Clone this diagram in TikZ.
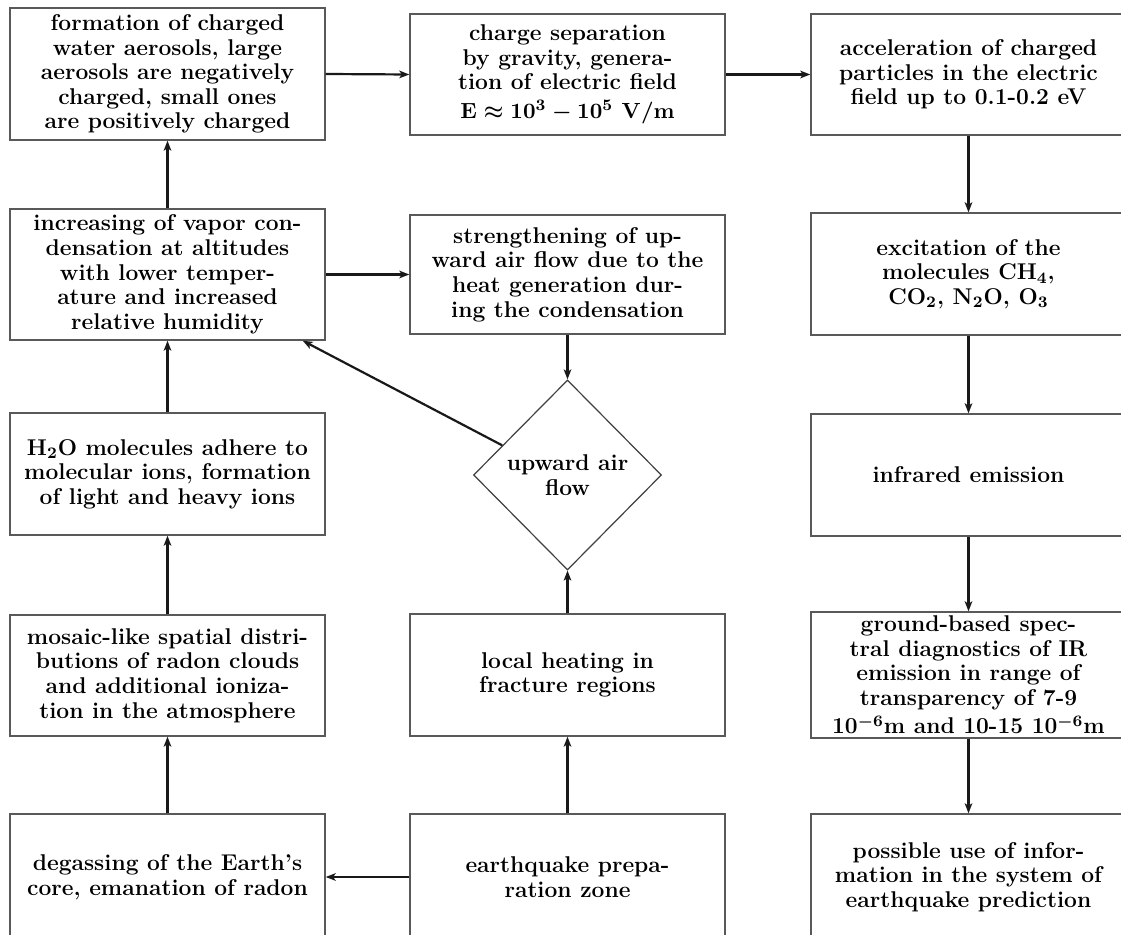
\documentclass[tikz,border=0pt]{standalone}
\usetikzlibrary{shapes.geometric,arrows.meta,calc}
\newcommand\sbs[1]{$_{\mathbf{#1}}$}
\newcommand\sps[1]{$^{\mathbf{#1}}$}
\begin{document}
\begin{tikzpicture}[x=0.5pt,y=-0.5pt,
  box/.style={draw=black!65,line width=0.7pt,fill=white,align=center,
    minimum width=157.5pt,inner sep=1pt,
    font=\fontsize{11.4}{12.3}\selectfont\bfseries\boldmath},
  dia/.style={draw=black!75,line width=0.6pt,shape=diamond,align=center,
    minimum width=94pt,minimum height=95pt,inner sep=0pt,
    font=\fontsize{11.4}{12.3}\selectfont\bfseries\boldmath},
  arr/.style={draw=black!90,line width=1.1pt,-{Stealth[length=5pt,width=3.8pt,inset=1.3pt]}}]
\useasboundingbox (0,0) rectangle (1121,935);
\clip (0,0) rectangle (1121,935);
\fill[white] (0,0) rectangle (1121,935);
% column 1
\node[box,minimum height=66pt] (A1) at (167.5,74) {formation of charged\\water aerosols, large\\aerosols are negatively\\charged, small ones\\are positively charged};
\node[box,minimum height=65.5pt] (A2) at (167.5,274.5) {increasing of vapor con-\\densation at altitudes\\with lower temper-\\ature and increased\\relative humidity};
\node[box,minimum height=61pt] (A3) at (167.5,474) {H\sbs{2}O molecules adhere to\\molecular ions, formation\\of light and heavy ions};
\node[box,minimum height=60.5pt] (A4) at (167.5,675.5) {mosaic-like spatial distri-\\butions of radon clouds\\and additional ioniza-\\tion in the atmosphere};
\node[box,minimum height=63pt] (A5) at (167.5,877) {degassing of the Earth's\\core, emanation of radon};
% column 2
\node[box,minimum height=60.5pt] (B1) at (567.5,74.5) {charge separation\\by gravity, genera-\\tion of electric field\\[2pt]$\mathbf{E}\approx\mathbf{10^3-10^5\ V/m}$};
\node[box,minimum height=59.5pt] (B2) at (567.5,274.5) {strengthening of up-\\ward air flow due to the\\heat generation dur-\\ing the condensation};
\node[dia] (D) at (567.5,475) {upward air\\flow};
\node[box,minimum height=61pt] (B4) at (567.5,675) {local heating in\\fracture regions};
\node[box,minimum height=63pt] (B5) at (567.5,877) {earthquake prepa-\\ration zone};
% column 3
\node[box,minimum height=60.5pt] (C1) at (968.5,74.5) {acceleration of charged\\particles in the electric\\field up to 0.1-0.2 eV};
\node[box,minimum height=61pt] (C2) at (968.5,274) {excitation of the\\molecules CH\sbs{4},\\CO\sbs{2}, N\sbs{2}O, O\sbs{3}};
\node[box,minimum height=61pt] (C3) at (968.5,475) {infrared emission};
\node[box,minimum height=63pt] (C4) at (968.5,675) {ground-based spec-\\tral diagnostics of IR\\emission in range of\\transparency of 7-9\\[2pt]10\sps{-6}m and 10-15 10\sps{-6}m};
\node[box,minimum height=63pt] (C5) at (968.5,877) {possible use of infor-\\mation in the system of\\earthquake prediction};
% connectors
\draw[arr] (A1.east) -- (B1.west);
\draw[arr] (B1.east) -- (C1.west);
\draw[arr] (C1.south) -- (C2.north);
\draw[arr] (C2.south) -- (C3.north);
\draw[arr] (C3.south) -- (C4.north);
\draw[arr] (C4.south) -- (C5.north);
\draw[arr] (A2.north) -- (A1.south);
\draw[arr] (A3.north) -- (A2.south);
\draw[arr] (A4.north) -- (A3.south);
\draw[arr] (A5.north) -- (A4.south);
\draw[arr] (A2.east) -- (B2.west);
\draw[arr] (B2.south) -- (D.north);
\draw[arr] (B4.north) -- (D.south);
\draw[arr] (B5.north) -- (B4.south);
\draw[arr] (B5.west) -- (A5.east);
\coordinate (Dtip) at ([xshift=-11.5pt]A2.south east);
\draw[arr] ($(D.west)!0.31!(D.north)$) -- (Dtip);
\end{tikzpicture}
\end{document}
